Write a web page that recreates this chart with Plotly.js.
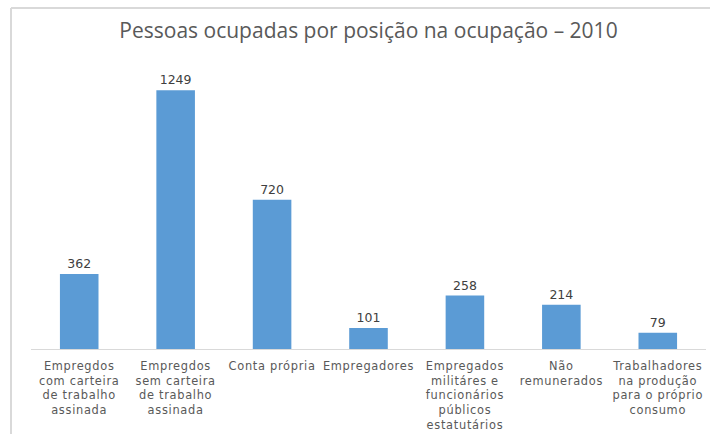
<!DOCTYPE html>
<html>
<head>
<meta charset="utf-8">
<script src="https://cdn.plot.ly/plotly-3.0.1.min.js"></script>
<style>
html,body{margin:0;padding:0;background:#fff;}
#chart{width:710px;height:434px;}
#chart .xtick text{letter-spacing:0.7px;}
</style>
</head>
<body>
<div id="chart"></div>
<script>
const categories = [
  "Empregdos<br>com carteira<br>de trabalho<br>assinada",
  "Empregdos<br>sem carteira<br>de trabalho<br>assinada",
  "Conta própria",
  "Empregadores",
  "Empregados<br>militáres e<br>funcionários<br>públicos<br>estatutários",
  "Não<br>remunerados",
  "Trabalhadores<br>na produção<br>para o próprio<br>consumo"
];
const values = [362, 1249, 720, 101, 258, 214, 79];
const titleText = "Pessoas ocupadas por posição na ocupação – 2010";

const W = 710, H = 434;
const L = 31, R = 4, T = 59, B = 85;
const pw = W - L - R, ph = H - T - B;
const px = x => (x - L) / pw;
const py = y => (H - B - y) / ph;

const trace = {
  type: 'bar',
  x: categories,
  y: values,
  marker: {color: '#5B9BD5'},
  text: values.map(String),
  textposition: 'outside',
  cliponaxis: false,
  textfont: {family: 'DejaVu Sans, sans-serif', size: 12.5, color: '#404040'},
  hoverinfo: 'none'
};

const layout = {
  width: W, height: H,
  margin: {l: L, r: R, t: T, b: B, pad: 0},
  paper_bgcolor: '#ffffff',
  plot_bgcolor: '#ffffff',
  bargap: 0.6,
  showlegend: false,
  title: {
    text: titleText,
    x: 0.5, xref: 'paper', xanchor: 'center',
    y: 1 - 31 / H, yref: 'container', yanchor: 'middle',
    font: {family: 'Open Sans, sans-serif', size: 21, color: '#595959'}
  },
  xaxis: {
    showline: true, linecolor: '#d9d9d9', linewidth: 1,
    ticks: '', showgrid: false, zeroline: false,
    ticklabelstandoff: 6,
    tickfont: {family: 'DejaVu Sans, sans-serif', size: 11.4, color: '#595959'},
    automargin: false
  },
  yaxis: {
    range: [0, 1400], visible: false, showgrid: false, zeroline: false
  },
  shapes: [
    {type: 'line', xref: 'paper', yref: 'paper', x0: px(11), x1: px(712), y0: py(8), y1: py(8),
     line: {color: '#d9d9d9', width: 2}},
    {type: 'line', xref: 'paper', yref: 'paper', x0: px(11), x1: px(11), y0: py(8), y1: py(436),
     line: {color: '#d9d9d9', width: 2}}
  ]
};

Plotly.newPlot('chart', [trace], layout, {displayModeBar: false, staticPlot: true});
</script>
</body>
</html>
